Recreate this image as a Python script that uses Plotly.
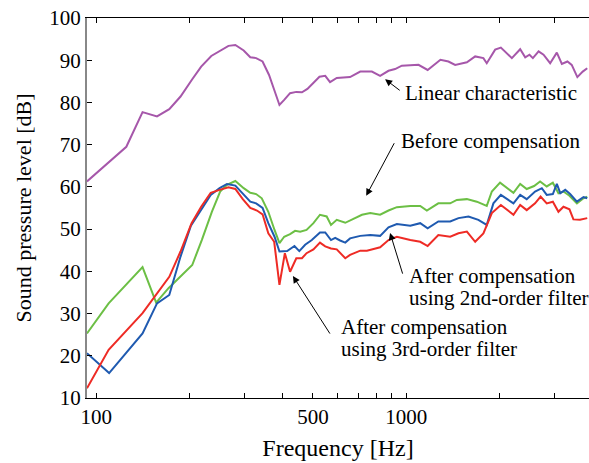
import plotly.graph_objects as go

# Frequency response data (Hz, dB)
linear_f = [93.3, 125, 141, 157, 172, 187, 204, 218, 235, 251, 267, 281, 299, 314, 328, 344, 361, 375,
            390, 404, 422, 442, 461, 480, 502, 525, 548, 568, 597, 659, 711, 775, 824, 877, 921, 968,
            1096, 1173, 1290, 1369, 1439, 1570, 1670, 1775, 1820, 1937, 2021, 2102, 2193, 2333, 2422,
            2500, 2564, 2675, 2775, 2915, 3063, 3180, 3314, 3422, 3568, 3713, 3840]
linear_db = [61.3, 69.5, 77.7, 76.7, 78.4, 81.4, 85.5, 88.5, 91.0, 92.2, 93.4, 93.6, 92.3, 90.7, 90.5,
             89.7, 86.5, 83.0, 79.4, 80.6, 82.2, 82.5, 82.4, 83.2, 84.6, 86.1, 86.3, 84.8, 85.8, 86.0,
             87.3, 87.3, 86.3, 87.5, 87.9, 88.7, 88.9, 87.7, 90.1, 89.7, 88.9, 89.5, 90.9, 90.5, 89.3,
             92.5, 93.0, 91.7, 90.5, 92.6, 90.7, 91.3, 90.5, 92.1, 91.3, 89.3, 91.8, 89.1, 89.7, 88.9,
             86.0, 87.3, 88.1]

before_f = [93.3, 109.6, 141, 156, 171, 204, 219, 236, 251, 264, 281, 299, 314, 328, 342, 359, 376,
            390, 404, 422, 438, 455, 477, 502, 527, 554, 572, 597, 636, 659, 720, 766, 824, 877, 933,
            1031, 1110, 1166, 1270, 1387, 1457, 1570, 1690, 1820, 1890, 2009, 2113, 2219, 2333, 2449,
            2587, 2705, 2842, 2974, 3100, 3218, 3365, 3556, 3735, 3840]
before_db = [25.3, 32.4, 41.0, 32.6, 36.0, 41.5, 47.4, 54.1, 58.9, 60.5, 61.4, 59.7, 58.6, 58.3, 57.3,
             54.1, 49.8, 46.7, 48.2, 48.8, 49.6, 49.4, 49.8, 51.4, 53.4, 53.0, 51.0, 52.2, 51.5, 52.0,
             53.4, 53.8, 53.4, 54.4, 55.2, 55.5, 55.5, 54.4, 56.1, 56.1, 56.9, 57.1, 56.5, 55.5, 58.9,
             61.0, 59.7, 58.6, 60.7, 59.5, 60.2, 61.3, 60.1, 61.0, 58.5, 58.9, 57.9, 56.1, 57.3, 57.7]

second_f = [93.3, 110, 141, 157, 172, 187, 202, 218, 234, 250, 264, 281, 299, 314, 328, 344, 359, 376,
            390, 413, 436, 452, 472, 496, 527, 548, 572, 590, 612, 636, 659, 711, 766, 824, 877, 933,
            1031, 1110, 1173, 1270, 1387, 1475, 1589, 1710, 1820, 1912, 2021, 2123, 2219, 2333, 2449,
            2606, 2740, 2842, 2974, 3063, 3143, 3260, 3381, 3556, 3735, 3840]
second_db = [20.6, 15.9, 25.3, 32.4, 34.4, 43.5, 50.8, 54.5, 58.1, 59.7, 60.7, 60.3, 58.1, 56.5, 56.1,
             55.0, 51.4, 48.2, 44.7, 44.8, 46.0, 44.8, 46.3, 47.4, 49.2, 49.2, 47.4, 47.9, 47.3, 46.8,
             47.8, 48.4, 48.6, 48.4, 50.4, 51.2, 50.8, 51.4, 50.2, 51.8, 51.8, 52.6, 53.0, 52.2, 51.0,
             56.1, 58.1, 57.1, 56.1, 58.1, 57.1, 58.9, 59.7, 58.1, 58.3, 60.7, 58.5, 59.3, 58.3, 56.5,
             57.6, 57.3]

third_f = [93.3, 109.6, 141, 157, 172, 187, 203, 218, 234, 250, 267, 281, 297, 314, 330, 344, 359, 375,
           390, 406, 422, 442, 461, 477, 502, 527, 548, 572, 597, 636, 659, 711, 747, 785, 824, 877, 933,
           1031, 1110, 1173, 1270, 1387, 1475, 1570, 1670, 1775, 1890, 2021, 2113, 2219, 2333, 2449,
           2606, 2715, 2842, 2974, 3100, 3218, 3365, 3465, 3638, 3840]
third_db = [12.3, 21.4, 30.1, 34.8, 38.7, 44.7, 51.4, 55.3, 58.6, 59.3, 59.9, 59.5, 57.1, 55.0, 54.4,
            53.5, 49.0, 47.0, 36.8, 44.3, 39.9, 43.1, 43.1, 44.3, 45.2, 46.8, 45.9, 45.4, 45.2, 43.1,
            43.9, 44.9, 44.9, 45.3, 45.7, 47.4, 48.2, 47.4, 47.0, 46.0, 48.6, 48.2, 49.0, 49.4, 47.0,
            49.0, 53.8, 55.7, 54.5, 53.4, 55.7, 54.5, 56.1, 57.7, 56.1, 56.5, 54.1, 55.3, 54.7, 52.3,
            52.2, 52.6]

x_tick_vals = [100, 200, 300, 400, 500, 600, 700, 800, 900, 1000, 2000, 3000]
x_tick_text = ["100", "", "", "", "500", "", "", "", "", "1000", "", ""]
y_tick_vals = [10, 20, 30, 40, 50, 60, 70, 80, 90, 100]

FONT = "Liberation Serif, Times New Roman, serif"

fig = go.Figure()
for f, db, color in [
    (linear_f, linear_db, "#A657AA"),
    (before_f, before_db, "#6CBF45"),
    (second_f, second_db, "#1F5AB0"),
    (third_f, third_db, "#EE2B25"),
]:
    fig.add_trace(go.Scatter(x=f, y=db, mode="lines",
                             line=dict(color=color, width=2), showlegend=False))

# Arrows: (tip log-x, tip dB, tail log-x, tail dB)
arrows = [
    (2.932, 85.5, 2.984, 82.6),
    (2.871, 57.9, 2.964, 70.7),
    (2.948, 49.1, 2.990, 39.1),
    (2.6345, 38.9, 2.757, 24.9),
]
for tx, ty, sx, sy in arrows:
    fig.add_annotation(x=tx, y=ty, ax=sx, ay=sy, xref="x", yref="y", axref="x", ayref="y",
                       text="", showarrow=True, arrowhead=2, arrowsize=1.4, arrowwidth=1,
                       arrowcolor="black")

labels = [
    (2.989, 82.2, "Linear characteristic"),
    (2.977, 70.9, "Before compensation"),
    (3.002, 38.9, "After compensation"),
    (3.002, 33.6, "using 2nd-order filter"),
    (2.784, 26.8, "After compensation"),
    (2.784, 21.5, "using 3rd-order filter"),
]
for lx, ly, txt in labels:
    fig.add_annotation(x=lx, y=ly, xref="x", yref="y", text=txt, showarrow=False,
                       xanchor="left", yanchor="middle",
                       font=dict(family=FONT, size=21, color="black"))

fig.update_layout(
    width=589, height=463,
    margin=dict(l=87, r=0, t=18, b=65),
    plot_bgcolor="white", paper_bgcolor="white",
    font=dict(family=FONT, size=20, color="black"),
)
fig.update_xaxes(
    type="log", range=[1.970, 3.590],
    tickvals=x_tick_vals, ticktext=x_tick_text,
    ticks="inside", ticklen=5, tickcolor="black",
    showline=True, linecolor="black", linewidth=1, mirror="ticks",
    showgrid=False, zeroline=False,
    title=dict(text="Frequency [Hz]", font=dict(family=FONT, size=24), standoff=10),
    tickfont=dict(family=FONT, size=21),
)
fig.update_yaxes(
    range=[10, 100], tickvals=y_tick_vals,
    ticks="inside", ticklen=5, tickcolor="black",
    showline=True, linecolor="#888888", linewidth=2,
    showgrid=False, zeroline=False,
    title=dict(text="Sound pressure level [dB]", font=dict(family=FONT, size=22), standoff=12),
    tickfont=dict(family=FONT, size=21),
)

fig.write_html("out.html")
